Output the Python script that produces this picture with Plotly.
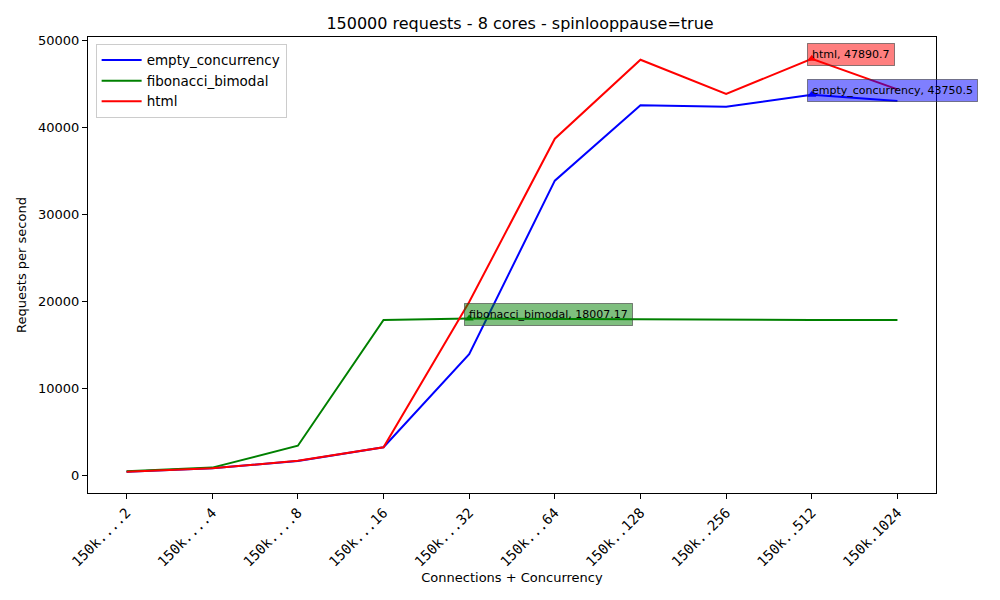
"""
Throughput vs connections/concurrency, 150000 requests on 8 cores.
"""
import plotly.graph_objects as go

# ---------------------------------------------------------------------------
# Data
# ---------------------------------------------------------------------------

tick_labels = [
    "150k....2", "150k....4", "150k....8", "150k...16", "150k...32",
    "150k...64", "150k..128", "150k..256", "150k..512", "150k.1024",
]
x_pos = list(range(len(tick_labels)))

empty_concurrency = [380, 780, 1600, 3200, 13900, 33870, 42540, 42380, 43750.5, 43040]
fibonacci_bimodal = [420, 850, 3370, 17840, 18007.17, 17950, 17920, 17870, 17830, 17850]
html = [380, 770, 1640, 3190, 19900, 38700, 47780, 43840, 47890.7, 44380]

series = [
    ("empty_concurrency", empty_concurrency, "blue",  "rgba(0,0,255,0.5)"),
    ("fibonacci_bimodal", fibonacci_bimodal, "green", "rgba(0,128,0,0.5)"),
    ("html",              html,              "red",   "rgba(255,0,0,0.5)"),
]

_FONT = "DejaVu Sans"

# ---------------------------------------------------------------------------
# Figure
# ---------------------------------------------------------------------------

fig = go.Figure()

for name, vals, color, _ in series:
    fig.add_trace(go.Scatter(
        x=x_pos, y=vals, name=name, mode="lines",
        line=dict(color=color, width=2),
    ))

# peak markers + labels (matplotlib-style annotate boxes)
for name, vals, color, box in series:
    i = max(range(len(vals)), key=lambda k: vals[k])
    fig.add_trace(go.Scatter(
        x=[x_pos[i]], y=[vals[i]], mode="markers", showlegend=False,
        marker=dict(symbol="triangle-up", size=8, color=color),
        hoverinfo="skip",
    ))
    fig.add_annotation(
        x=x_pos[i], y=vals[i], text=f"{name}, {vals[i]}",
        showarrow=False, xanchor="left", yanchor="middle", xshift=-5, yshift=4,
        bgcolor=box, bordercolor="rgba(60,60,60,0.6)", borderwidth=1,
        borderpad=4, font=dict(family=_FONT, size=11, color="black"),
    )

# the page body has an 8px margin, so the margins below are shifted by it
fig.update_layout(
    width=1000, height=600,
    paper_bgcolor="white", plot_bgcolor="white",
    margin=dict(l=80, r=72, t=29, b=115),
    title=dict(
        text="150000 requests - 8 cores - spinlooppause=true",
        x=0.512, xanchor="center", y=0.975, yanchor="middle",
        font=dict(family=_FONT, size=16, color="black"),
    ),
    font=dict(family=_FONT, size=13, color="black"),
    legend=dict(
        x=0.009, y=0.985, xanchor="left", yanchor="top",
        bgcolor="white", bordercolor="#cccccc", borderwidth=1,
        font=dict(family=_FONT, size=13.5), tracegroupgap=0,
        itemwidth=40,
    ),
    showlegend=True,
)

fig.update_xaxes(
    range=[-0.45, 9.45], tickmode="array", tickvals=x_pos, ticktext=tick_labels,
    tickangle=-45, ticks="outside", ticklen=5, tickcolor="black",
    tickfont=dict(family="DejaVu Sans Mono", size=14),
    showline=True, linecolor="black", linewidth=1, mirror=True,
    showgrid=False, zeroline=False, automargin=False,
    title=dict(text="Connections + Concurrency", standoff=4,
               font=dict(family=_FONT, size=13)),
)
fig.update_yaxes(
    range=[-2070, 50400], tickvals=[0, 10000, 20000, 30000, 40000, 50000],
    tickformat="d", ticks="outside", ticklen=5, tickcolor="black",
    showline=True, linecolor="black", linewidth=1, mirror=True,
    showgrid=False, zeroline=False, automargin=False,
    title=dict(text="Requests per second", standoff=8,
               font=dict(family=_FONT, size=13)),
)

fig.write_html("out.html")
